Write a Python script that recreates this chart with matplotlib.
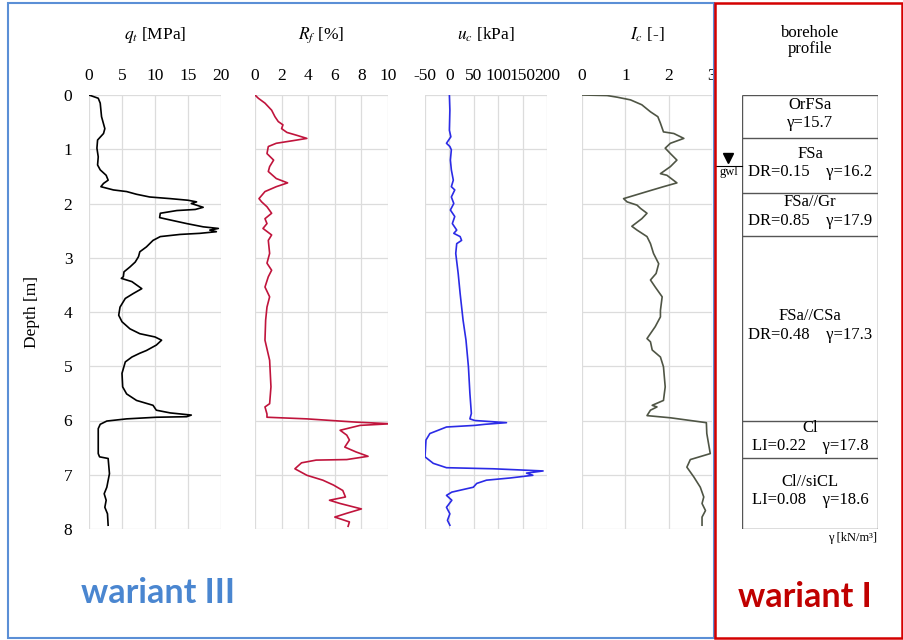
import numpy as np
import matplotlib.pyplot as plt
from matplotlib.patches import Rectangle

plt.rcParams['font.family'] = ['Liberation Serif', 'DejaVu Serif']
plt.rcParams['mathtext.fontset'] = 'stix'
plt.rcParams['axes.unicode_minus'] = False

# cone resistance q_t [MPa]
qt_depth = [0, 0.06, 0.15, 0.4, 0.62, 0.71, 0.83, 0.98, 1.14, 1.29, 1.38, 1.48, 1.57, 1.63, 1.69,
            1.75, 1.78, 1.83, 1.88, 1.91, 1.94, 1.97, 2.0, 2.07, 2.11, 2.13, 2.18, 2.26, 2.29, 2.37,
            2.43, 2.46, 2.49, 2.52, 2.55, 2.57, 2.61, 2.68, 2.8, 2.89, 2.98, 3.08, 3.17, 3.26, 3.35,
            3.38, 3.44, 3.57, 3.66, 3.75, 3.91, 4.06, 4.18, 4.31, 4.4, 4.46, 4.52, 4.61, 4.71, 4.76,
            4.83, 4.92, 5.13, 5.38, 5.51, 5.63, 5.72, 5.81, 5.86, 5.9, 5.93, 5.94, 5.97, 6.01, 6.07,
            6.15, 6.61, 6.67, 6.7, 6.98, 7.23, 7.35, 7.47, 7.6, 7.72, 7.93]
qt_value = [0, 1.4, 1.7, 1.9, 2.4, 2.2, 1.3, 1.2, 1.4, 1.3, 1.7, 2.6, 2.9, 2.2, 1.8,
            3.7, 5.7, 7.2, 9.2, 12.3, 15.0, 16.3, 15.5, 17.3, 16.1, 13.3, 10.8, 10.7, 11.8, 14.8,
            17.3, 19.6, 18.3, 19.3, 16.8, 13.8, 10.8, 9.7, 8.7, 7.7, 7.5, 7.0, 6.2, 5.3, 5.2,
            4.9, 6.5, 8.0, 6.7, 5.5, 4.7, 4.5, 5.0, 6.2, 7.7, 10.0, 11.0, 10.2, 8.7, 7.7,
            6.5, 5.5, 5.0, 5.1, 5.7, 7.2, 9.7, 10.2, 12.3, 15.5, 14.8, 10.2, 5.7, 2.7, 1.7,
            1.4, 1.4, 1.6, 2.9, 3.1, 2.7, 2.3, 2.6, 2.4, 2.8, 2.9]

# friction ratio R_f [%]
rf_depth = [0, 0.06, 0.15, 0.28, 0.4, 0.49, 0.55, 0.62, 0.69, 0.74, 0.8, 0.84, 0.89, 0.95, 1.08,
            1.2, 1.32, 1.41, 1.54, 1.62, 1.69, 1.78, 1.91, 1.97, 2.06, 2.18, 2.28, 2.37, 2.46, 2.58,
            2.68, 2.92, 3.1, 3.23, 3.35, 3.54, 3.72, 3.91, 4.15, 4.52, 4.89, 5.38, 5.69, 5.75, 5.88,
            5.94, 5.97, 6.03, 6.06, 6.09, 6.18, 6.27, 6.36, 6.49, 6.58, 6.66, 6.72, 6.73, 6.78, 6.89,
            7.01, 7.1, 7.19, 7.29, 7.41, 7.47, 7.53, 7.63, 7.71, 7.78, 7.87, 7.95]
rf_value = [0, 0.25, 0.75, 1.25, 1.5, 1.75, 2.1, 2.0, 2.4, 3.1, 3.9, 2.9, 1.6, 1.0, 0.9,
            1.4, 1.1, 1.0, 1.6, 2.45, 1.6, 0.75, 0.3, 0.5, 0.9, 1.25, 0.75, 0.9, 0.6, 1.25,
            1.0, 1.1, 0.9, 1.25, 1.0, 0.75, 1.1, 0.9, 0.8, 0.75, 1.1, 1.2, 1.1, 0.75, 0.9,
            0.9, 3.9, 7.6, 10.2, 7.9, 6.4, 6.9, 7.1, 6.75, 7.6, 8.5, 6.9, 4.6, 3.5, 3.0,
            3.9, 5.1, 5.9, 6.6, 6.8, 5.6, 6.4, 8.0, 6.9, 6.0, 7.1, 7.0]

# pore pressure u_c [kPa]
uc_depth = [0, 0.28, 0.65, 0.77, 0.89, 0.95, 1.01, 1.2, 1.38, 1.57, 1.69, 1.75, 1.88, 2.0, 2.12,
            2.24, 2.37, 2.49, 2.55, 2.61, 2.68, 2.74, 2.92, 3.29, 3.66, 4.15, 4.52, 5.01, 5.5, 5.87,
            5.97, 6.0, 6.04, 6.07, 6.09, 6.12, 6.24, 6.36, 6.67, 6.79, 6.87, 6.89, 6.93, 6.97, 7.01,
            7.06, 7.1, 7.16, 7.23, 7.32, 7.38, 7.47, 7.6, 7.72, 7.84, 7.93]
uc_value = [0, 1, 0, 3, -6, 1, 4, 2, 4, 8, 4, 11, 4, 9, 2,
            11, 6, 15, 9, 22, 25, 15, 13, 18, 22, 28, 34, 39, 42, 45,
            42, 52, 117, 73, 52, -6, -40, -48, -50, -33, -6, 90, 192, 158, 171,
            124, 76, 56, 49, 5, -6, 5, -6, 1, -4, 1]

# soil behaviour type index I_c [-]
ic_depth = [0, 0.01, 0.04, 0.09, 0.18, 0.31, 0.4, 0.52, 0.68, 0.71, 0.8, 0.89, 0.98, 1.08, 1.2,
            1.32, 1.45, 1.48, 1.62, 1.69, 1.78, 1.91, 1.97, 2.03, 2.09, 2.18, 2.28, 2.42, 2.49, 2.61,
            2.74, 2.92, 3.11, 3.29, 3.41, 3.54, 3.72, 3.97, 4.09, 4.27, 4.49, 4.55, 4.7, 4.83, 5.01,
            5.38, 5.63, 5.72, 5.75, 5.81, 5.91, 5.95, 6.04, 6.24, 6.61, 6.72, 6.86, 7.04, 7.23, 7.41,
            7.53, 7.66, 7.78, 7.93]
ic_value = [0, 0.58, 0.81, 1.12, 1.38, 1.58, 1.75, 1.81, 1.88, 2.12, 2.35, 2.04, 1.92, 2.04, 2.19,
            2.04, 1.81, 1.96, 2.19, 1.88, 1.5, 0.96, 1.04, 1.27, 1.35, 1.5, 1.38, 1.15, 1.27, 1.5,
            1.58, 1.65, 1.77, 1.71, 1.58, 1.69, 1.85, 1.81, 1.81, 1.69, 1.5, 1.58, 1.62, 1.81, 1.88,
            1.92, 1.88, 1.62, 1.73, 1.58, 1.5, 2.04, 2.87, 2.88, 2.96, 2.5, 2.42, 2.58, 2.73, 2.81,
            2.77, 2.85, 2.77, 2.77]

# borehole profile
layer_top = [0, 0.8, 1.8, 2.6, 6.0, 6.7]
layer_bottom = [0.8, 1.8, 2.6, 6.0, 6.7, 8.0]
layer_name = ['OrFSa', 'FSa', 'FSa//Gr', 'FSa//CSa', 'Cl', 'Cl//siCL']
layer_props = ['γ=15.7', 'DR=0.15    γ=16.2', 'DR=0.85    γ=17.9', 'DR=0.48    γ=17.3',
               'LI=0.22    γ=17.8', 'LI=0.08    γ=18.6']
gwl_depth = 1.3

W, H = 904, 640
fig = plt.figure(figsize=(W / 100, H / 100), dpi=100)


def box(x0, x1):
    return [x0 / W, 1 - 529 / H, (x1 - x0) / W, 434 / H]


panels = [
    (qt_value, qt_depth, 'black', (0, 20), [0, 5, 10, 15, 20], r'$q_t$ [MPa]', 89, 221),
    (rf_value, rf_depth, '#c0143c', (0, 10), [0, 2, 4, 6, 8, 10], r'$R_f$ [%]', 255, 388),
    (uc_value, uc_depth, '#2b2be6', (-50, 200), [-50, 0, 50, 100, 150, 200], r'$u_c$ [kPa]', 425, 547),
    (ic_value, ic_depth, '#4f5545', (0, 3), [0, 1, 2, 3], r'$I_c$ [-]', 582, 712),
]

for i, (xv, yv, col, xlim, xticks, label, x0, x1) in enumerate(panels):
    ax = fig.add_axes(box(x0, x1))
    ax.plot(xv, yv, color=col, lw=1.2)
    ax.set_xlim(*xlim)
    ax.set_ylim(8, 0)
    ax.set_xticks(xticks)
    ax.set_yticks(range(9))
    ax.xaxis.tick_top()
    ax.tick_params(axis='x', length=0, pad=8, labelsize=12.5)
    ax.tick_params(axis='y', length=0, pad=12, labelsize=12.5)
    if i > 0:
        ax.set_yticklabels([])
    ax.grid(True, color='#dcdcdc', lw=0.9)
    for s in ax.spines.values():
        s.set_visible(False)
    ax.text(0.5, 1.138, label, transform=ax.transAxes, ha='center', va='center', fontsize=12.5)
    if i == 0:
        ax.set_ylabel('Depth [m]', fontsize=12.5, labelpad=17)

# borehole profile
bx = fig.add_axes(box(742, 878))
bx.set_xlim(0, 1)
bx.set_ylim(8, 0)
bx.axis('off')
bx.vlines([0, 1], 0, 8, color='#555555', lw=1)
bx.hlines(layer_top + [8.0], 0, 1, color='#555555', lw=1)
for top, bot, name, props in zip(layer_top, layer_bottom, layer_name, layer_props):
    mid = (top + bot) / 2 - 0.05
    bx.text(0.5, mid - 0.17, name, ha='center', va='center', fontsize=12)
    bx.text(0.5, mid + 0.17, props, ha='center', va='center', fontsize=12)
bx.text(0.5, 1.124, 'borehole\nprofile', transform=bx.transAxes, ha='center', va='center',
        fontsize=12, linespacing=1.05)
bx.text(0.99, -0.006, 'γ [kN/m³]', transform=bx.transAxes, ha='right', va='top', fontsize=9)

# ground water level marker
bx.plot([-0.19, 0], [gwl_depth, gwl_depth], color='black', lw=0.8, clip_on=False)
bx.plot([-0.1], [gwl_depth - 0.13], marker='v', color='black', ms=7, clip_on=False)
bx.text(-0.1, gwl_depth + 0.01, 'gwl', ha='center', va='top', fontsize=9, clip_on=False)

# variant frames and captions
fig.add_artist(Rectangle((8 / W, 2 / H), (714 - 8) / W, (637 - 2) / H, transform=fig.transFigure,
                         fill=False, ec='#5b8fd6', lw=1.5))
fig.add_artist(Rectangle((715 / W, 2 / H), (902 - 715) / W, (637 - 2) / H, transform=fig.transFigure,
                         fill=False, ec='#d40000', lw=1.8))
fig.text(158 / W, 1 - 593 / H, 'wariant III', color='#4a86d0', fontsize=24.5, fontweight='bold',
         family=['Lato', 'DejaVu Sans'], ha='center', va='center')
fig.text(805 / W, 1 - 597 / H, 'wariant I', color='#c00000', fontsize=24.5, fontweight='bold',
         family=['Lato', 'DejaVu Sans'], ha='center', va='center')

fig.savefig('out.png', dpi=100)
